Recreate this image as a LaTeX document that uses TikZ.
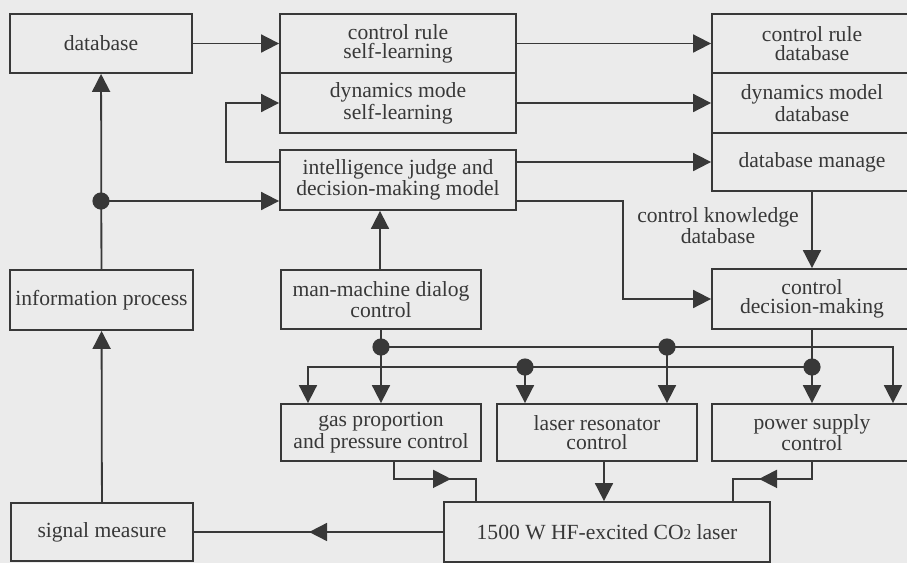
\documentclass[tikz,border=0pt]{standalone}
\usepackage{fontspec}
\setmainfont{Liberation Serif}
\usetikzlibrary{arrows.meta,decorations.markings}
\definecolor{paper}{HTML}{EBEBEB}
\definecolor{ink}{HTML}{383838}
% block given by its corners: name, x1, y1, x2, y2, text
\newcommand\blockat[6]{%
  \node[blk, minimum width={(#4-#2)*0.5pt}, minimum height={(#5-#3)*0.5pt}]
    (#1) at ({(#2+#4)/2},{(#3+#5)/2}) {#6};}
\begin{document}
\begin{tikzpicture}[x=0.5pt,y=-0.5pt,
  blk/.style={draw=ink, line width=0.9pt, text=ink, align=center,
    inner sep=0pt, font=\fontsize{10.8}{9.6}\selectfont},
  lbl/.style={text=ink, align=center, inner sep=0pt,
    font=\fontsize{10.8}{10.5}\selectfont},
  tip/.style={-{Triangle[length=9pt,width=9pt]}},
  wire/.style={draw=ink, line width=0.9pt},
  arr/.style={wire, tip},
  midarr/.style={wire, postaction={decorate}, decoration={markings,
    mark=at position #1 with {\arrow[ink]{Triangle[length=9pt,width=9pt]}}}},
  dot/.style={fill=ink},
]
\fill[paper] (0,0) rectangle (907,563);
\useasboundingbox (0,0) rectangle (907,563);
\clip (0,0) rectangle (907,563);

% left column
\blockat{db}{10}{14}{192}{73}{database}
\blockat{ip}{10}{270}{193}{330}{information process}
\blockat{sig}{11}{503}{193}{561}{signal measure}

% middle column
\blockat{crsl}{280}{14}{516}{73}{control rule\\self-learning}
\blockat{dmsl}{280}{73}{516}{133}{dynamics mode\\self-learning}
\blockat{ijd}{280}{150}{516}{210}{intelligence judge and\\decision-making model}
\blockat{mmd}{281}{270}{481}{329}{man-machine dialog\\control}

% right column
\blockat{crdb}{712}{14}{912}{73}{control rule\\database}
\blockat{dmdb}{712}{73}{912}{133}{dynamics model\\database}
\blockat{dbm}{712}{133}{912}{191}{database manage}
\blockat{cdm}{712}{269}{912}{329}{control\\decision-making}

% actuator controls and the laser
\blockat{gas}{281}{404}{481}{461}{gas proportion\\and pressure control}
\blockat{lrc}{497}{404}{697}{461}{laser resonator\\control}
\blockat{psc}{712}{404}{912}{461}{power supply\\control}
\blockat{laser}{444}{502}{770}{562}{1500 W HF-excited CO{\fontsize{7.5}{7.5}\selectfont 2} laser}

\node[lbl] (ckd) at (718,226) {control knowledge\\database};

% junction points
\coordinate (j1) at (101,201);
\coordinate (j2) at (381,347);
\coordinate (j3) at (667,347);
\coordinate (j4) at (812,367);
\coordinate (j5) at (525,367);

% learning and database flow
\draw[arr] (db) -- (crsl);
\draw[arr] (crsl) -- (crdb);
\draw[arr] (dmsl) -- (dmdb);
\draw[arr] (ijd.east |- dbm.west) -- (dbm.west);
\draw[arr] (ijd.west |- dbm.west) -- ++(-53,0) |- (dmsl.west);
\draw[arr] (ip) -- (db);
\draw[arr] (j1) -- (j1 -| ijd.west);
\draw[arr] (mmd.north -| 380,0) -- (ijd.south -| 380,0);
\draw[arr] (ijd.east |- j1) -- ++(106,0) |- (cdm.west);
\draw[arr] (dbm) -- (cdm);

% control buses
\draw[arr] (mmd.south) -- (gas.north);
\draw[arr] (j2) -| ([xshift=40.5pt]psc.north);
\draw[arr] (j3) -- (j3 |- lrc.north);
\draw[arr] (cdm) -- (psc);
\draw[arr] (j4) -| ([xshift=-36.5pt]gas.north);
\draw[arr] (j5) -- (j5 |- lrc.north);

% into the laser and back to measurement
\draw[midarr=37pt] ([xshift=6.5pt]gas.south) -- ++(0,17) -| ([xshift=-65.5pt]laser.north);
\draw[arr] ([xshift=3.5pt]lrc.south) -- ([xshift=3.5pt]lrc.south |- laser.north);
\draw[midarr=35pt] (psc.south) -- ++(0,17) -| ([xshift=63pt]laser.north);
\draw[midarr=67pt] (laser) -- (sig);
\draw[arr] (sig) -- (ip);

% junction dots
\foreach \j in {j1,j2,j3,j4,j5} \fill[dot] (\j) circle[radius=4.3pt];
\end{tikzpicture}
\end{document}
